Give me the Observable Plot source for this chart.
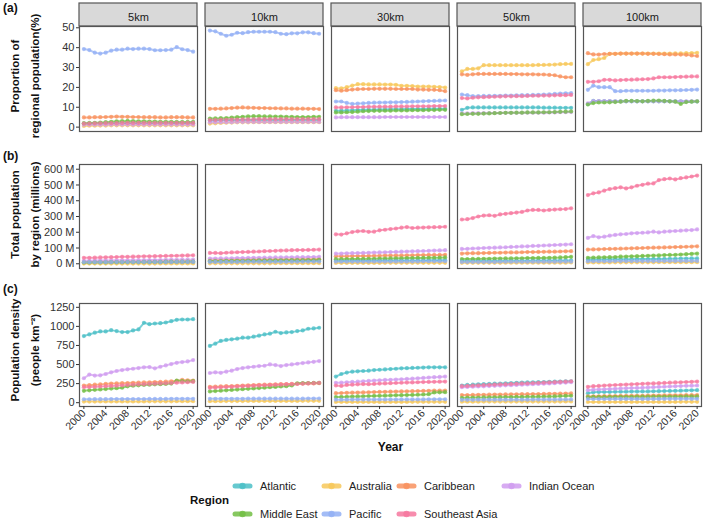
<!DOCTYPE html>
<html><head><meta charset="utf-8">
<script src="https://cdn.jsdelivr.net/npm/d3@7"></script>
<script src="https://cdn.jsdelivr.net/npm/@observablehq/plot@0.6"></script>
<style>
body{margin:0;background:#fff;}
#root{position:relative;width:709px;height:521px;font-family:"Liberation Sans",Arial,sans-serif;overflow:hidden;background:#fff;}
#root svg{position:absolute;left:0;}
.tag{position:absolute;left:3px;font-weight:bold;font-size:12px;color:#111;line-height:12px;}
</style></head><body><div id="root"></div>
<script>
const years = [2000,2001,2002,2003,2004,2005,2006,2007,2008,2009,2010,2011,2012,2013,2014,2015,2016,2017,2018,2019,2020];
const regions = ["Atlantic","Australia","Caribbean","Indian Ocean","Middle East","Pacific","Southeast Asia"];
const distances = ["5km","10km","30km","50km","100km"];
const colors = ["#4bbfc7","#f7c85a","#f8925f","#d09cf0","#72be44","#93b0f5","#f6789f"];
const yearTicks = [2000,2004,2008,2012,2016,2020];
const propTicks = [0,10,20,30,40,50];
const popTicks = [0,100,200,300,400,500,600];
const densTicks = [0,250,500,750,1000,1250];

// (a) Proportion of regional population (%)
const prop_5km = {
  "Atlantic":      [1.7,1.7,1.8,1.8,1.8,1.9,1.9,1.9,1.9,1.9,1.9,1.9,1.9,1.9,1.9,1.9,1.9,1.9,1.9,1.9,1.9],
  "Australia":     [0.6,0.7,0.7,0.8,0.8,0.9,0.9,0.9,0.9,0.9,0.9,0.9,0.9,0.9,0.9,0.9,0.9,0.9,0.9,0.9,0.9],
  "Caribbean":     [4.9,4.9,5.0,5.0,5.1,5.2,5.3,5.2,5.2,5.1,5.1,5.0,5.0,5.0,4.9,4.9,5.0,5.0,5.0,4.9,4.9],
  "Indian Ocean":  [1.2,1.2,1.2,1.2,1.2,1.3,1.3,1.3,1.3,1.3,1.3,1.3,1.3,1.3,1.3,1.3,1.3,1.3,1.3,1.3,1.3],
  "Middle East":   [2.0,2.1,2.2,2.3,2.5,2.7,2.9,3.0,3.1,3.0,2.9,2.9,2.8,2.8,2.7,2.7,2.7,2.6,2.6,2.6,2.6],
  "Pacific":       [39.3,38.8,37.5,37.0,37.5,38.5,39.0,39.0,39.5,39.3,39.5,39.5,39.3,38.7,38.7,38.8,39.0,40.3,39.2,38.8,38.0],
  "Southeast Asia":[1.8,1.8,1.9,1.9,2.0,2.0,2.0,2.1,2.1,2.1,2.1,2.1,2.1,2.1,2.1,2.1,2.1,2.1,2.1,2.1,2.1]
};
const prop_10km = {
  "Atlantic":      [3.3,3.3,3.4,3.4,3.5,3.5,3.6,3.6,3.6,3.6,3.6,3.6,3.6,3.6,3.6,3.6,3.6,3.6,3.6,3.6,3.6],
  "Australia":     [1.8,1.9,2.1,2.2,2.3,2.4,2.4,2.4,2.5,2.5,2.5,2.5,2.5,2.5,2.5,2.5,2.5,2.5,2.5,2.5,2.5],
  "Caribbean":     [9.2,9.2,9.3,9.4,9.6,9.8,9.9,9.8,9.7,9.6,9.6,9.5,9.5,9.4,9.4,9.3,9.3,9.3,9.2,9.2,9.1],
  "Indian Ocean":  [2.4,2.4,2.5,2.5,2.5,2.6,2.6,2.6,2.6,2.6,2.6,2.6,2.6,2.6,2.6,2.6,2.6,2.6,2.6,2.6,2.6],
  "Middle East":   [4.3,4.4,4.5,4.6,4.8,5.0,5.2,5.4,5.5,5.5,5.4,5.4,5.3,5.3,5.2,5.2,5.1,5.1,5.1,5.2,5.2],
  "Pacific":       [48.6,48.2,47.0,46.0,46.5,47.5,47.3,47.8,48.0,48.0,48.0,48.0,47.8,47.0,46.8,47.2,47.2,47.7,47.7,47.3,47.0],
  "Southeast Asia":[3.6,3.6,3.7,3.7,3.8,3.8,3.9,3.9,3.9,4.0,4.0,4.0,4.0,4.0,4.0,4.0,4.0,4.0,4.0,4.0,4.0]
};
const prop_30km = {
  "Atlantic":      [8.2,8.3,8.4,8.5,8.6,8.7,8.8,8.8,8.9,8.9,9.0,9.0,9.0,9.1,9.1,9.1,9.1,9.2,9.2,9.2,9.2],
  "Australia":     [19.6,19.5,20.1,20.9,21.6,21.6,21.5,21.5,21.5,21.4,21.4,21.3,20.8,20.8,20.7,20.4,20.4,20.4,20.3,20.2,19.9],
  "Caribbean":     [18.6,18.3,18.6,18.9,19.1,19.2,19.2,19.3,19.3,19.3,19.3,19.2,19.2,19.2,19.2,18.9,18.9,18.8,18.8,18.6,18.1],
  "Indian Ocean":  [4.9,5.0,5.0,5.0,5.0,5.0,5.0,5.0,5.0,5.1,5.1,5.1,5.1,5.1,5.1,5.1,5.1,5.1,5.1,5.1,5.1],
  "Middle East":   [7.4,7.4,7.5,7.6,7.8,8.0,8.1,8.2,8.2,8.3,8.3,8.4,8.4,8.4,8.5,8.5,8.5,8.6,8.6,8.7,8.7],
  "Pacific":       [12.9,12.9,12.2,11.7,11.9,12.0,12.2,12.3,12.4,12.4,12.5,12.5,12.6,12.7,12.8,12.9,13.0,13.1,13.2,13.3,13.4],
  "Southeast Asia":[9.9,9.9,10.0,10.0,10.1,10.1,10.2,10.2,10.3,10.3,10.3,10.4,10.4,10.4,10.5,10.5,10.5,10.5,10.6,10.6,10.6]
};
const prop_50km = {
  "Atlantic":      [8.7,9.7,9.9,9.9,9.9,9.9,9.9,9.9,9.9,9.9,9.9,9.9,9.9,9.9,9.9,9.8,9.8,9.8,9.7,9.7,9.7],
  "Australia":     [28.1,29.3,29.3,29.6,31.2,31.2,31.2,31.2,31.2,31.2,31.2,31.2,31.2,31.2,31.3,31.3,31.4,31.5,31.7,31.8,31.8],
  "Caribbean":     [26.6,26.3,26.6,26.8,26.8,26.8,26.8,26.8,26.8,26.7,26.7,26.6,26.6,26.6,26.5,26.5,26.3,26.1,25.5,25.1,25.1],
  "Indian Ocean":  [6.9,6.9,7.0,7.0,7.0,7.1,7.1,7.1,7.2,7.2,7.2,7.2,7.3,7.3,7.3,7.3,7.4,7.4,7.5,7.5,7.6],
  "Middle East":   [6.5,6.6,6.7,6.7,6.8,6.9,7.0,7.1,7.2,7.2,7.3,7.3,7.4,7.4,7.4,7.5,7.5,7.6,7.7,7.8,7.9],
  "Pacific":       [16.4,16.1,15.6,15.6,15.7,15.7,15.8,15.8,15.9,15.9,16.0,16.1,16.1,16.2,16.3,16.4,16.5,16.7,16.9,17.0,17.1],
  "Southeast Asia":[14.6,14.4,14.8,15.0,15.1,15.2,15.3,15.4,15.5,15.5,15.6,15.6,15.7,15.8,15.8,15.9,15.9,16.0,16.1,16.1,16.2]
};
const prop_100km = {
  "Atlantic":      [11.6,13.2,13.1,13.1,13.1,13.0,13.0,13.0,13.0,13.0,13.0,13.0,13.0,13.0,13.0,13.0,13.0,13.0,12.9,12.9,12.9],
  "Australia":     [31.7,33.8,34.2,34.8,36.9,36.9,37.0,37.0,37.0,37.0,37.0,37.0,37.0,37.0,37.0,37.0,37.1,37.1,37.2,37.3,37.4],
  "Caribbean":     [37.2,36.6,36.5,36.8,36.9,36.9,37.0,37.0,37.0,37.0,37.0,36.9,36.9,36.8,36.7,36.6,36.6,36.5,36.4,36.1,35.8],
  "Indian Ocean":  [12.0,13.1,13.1,13.1,13.1,13.0,13.0,13.0,13.0,13.0,13.0,13.0,13.0,13.0,13.0,13.0,13.0,13.0,13.0,13.0,13.0],
  "Middle East":   [11.4,12.1,12.4,12.4,12.5,12.6,12.8,13.2,13.2,13.1,13.0,13.2,13.3,13.4,13.2,13.0,12.8,11.7,12.6,12.8,13.0],
  "Pacific":       [18.8,20.9,20.1,20.1,20.1,18.1,18.1,18.3,18.3,18.3,18.3,18.3,18.3,18.4,18.4,18.5,18.5,18.6,18.7,18.8,18.9],
  "Southeast Asia":[22.8,22.8,23.1,23.8,23.8,23.5,23.7,23.8,23.9,24.0,24.1,24.2,24.5,25.1,25.1,25.1,25.2,25.3,25.4,25.5,25.5]
};

// (b) Total population by region (millions)
const pop_5km = {
  "Atlantic":      [8,8,8,8,8,8,9,9,9,9,9,9,9,9,9,10,10,10,10,10,10],
  "Australia":     [1,1,1,1,1,1,1,1,1,1,1,1,1,1,2,2,2,2,2,2,2],
  "Caribbean":     [12,12,12,13,13,13,13,13,14,14,14,14,14,14,15,15,15,15,15,15,15],
  "Indian Ocean":  [19,19,20,20,21,21,22,22,22,23,23,23,24,24,24,25,25,25,26,26,26],
  "Middle East":   [8,8,9,9,9,10,10,10,11,11,11,12,12,12,12,13,13,13,13,14,14],
  "Pacific":       [10,10,10,10,10,10,11,11,11,11,11,11,11,11,11,11,11,12,12,12,12],
  "Southeast Asia":[38,38,39,40,41,42,43,44,44,45,46,47,47,48,49,50,51,51,52,53,54]
};
const pop_10km = {
  "Atlantic":      [14,14,14,15,15,15,15,15,16,16,16,16,16,16,17,17,17,17,17,17,18],
  "Australia":     [3,3,3,3,3,3,3,3,3,3,3,3,4,4,4,4,4,4,4,4,4],
  "Caribbean":     [23,23,24,24,24,25,25,25,26,26,26,26,27,27,27,27,28,28,28,28,29],
  "Indian Ocean":  [33,33,34,34,35,36,36,37,38,38,39,39,40,40,41,41,42,42,43,43,44],
  "Middle East":   [17,17,17,18,18,19,19,20,20,21,21,21,22,22,22,23,23,23,24,24,25],
  "Pacific":       [12,12,12,12,12,12,13,13,13,13,13,13,13,13,13,13,13,14,14,14,14],
  "Southeast Asia":[69,69,67,70,72,73,74,75,77,78,80,81,82,84,85,86,87,87,88,89,90]
};
const pop_30km = {
  "Atlantic":      [18,18,18,19,19,19,19,20,20,20,20,20,21,21,21,21,21,22,22,22,22],
  "Australia":     [5,5,5,5,5,5,5,5,5,6,6,6,6,6,6,6,6,6,6,6,6],
  "Caribbean":     [47,48,48,49,49,50,50,51,51,52,52,53,53,54,54,55,55,56,56,56,57],
  "Indian Ocean":  [64,65,66,67,68,69,70,71,72,73,74,75,77,78,79,80,81,82,84,85,86],
  "Middle East":   [29,29,30,30,31,31,32,32,33,33,34,35,35,36,36,37,37,38,38,39,40],
  "Pacific":       [14,14,14,14,14,14,14,15,15,15,15,15,15,15,15,15,16,16,16,16,16],
  "Southeast Asia":[187,185,193,201,206,208,203,204,212,216,220,224,229,233,227,229,230,231,232,233,235]
};
const pop_50km = {
  "Atlantic":      [17,17,17,18,18,18,18,18,19,19,19,19,19,20,20,20,20,20,21,21,21],
  "Australia":     [6,6,6,6,6,6,6,6,7,7,7,7,7,7,7,7,7,7,7,7,8],
  "Caribbean":     [65,66,67,67,68,69,70,70,71,72,72,73,74,74,75,76,77,77,78,79,80],
  "Indian Ocean":  [94,95,97,98,100,101,102,104,105,107,108,110,111,113,114,116,117,119,120,122,124],
  "Middle East":   [30,30,31,31,32,32,33,33,34,34,35,35,36,36,37,37,38,39,40,42,44],
  "Pacific":       [12,12,12,12,12,12,12,13,13,13,13,13,13,13,13,13,13,13,14,14,14],
  "Southeast Asia":[281,283,290,300,306,308,304,313,317,321,325,329,338,342,342,338,342,344,346,347,352]
};
const pop_100km = {
  "Atlantic":      [26,26,27,27,28,28,28,29,29,30,30,30,31,31,31,32,32,33,33,34,34],
  "Australia":     [8,8,8,8,8,9,9,9,9,9,9,9,9,10,10,10,10,10,10,10,10],
  "Caribbean":     [90,91,92,93,94,95,96,97,98,99,100,101,102,103,104,105,106,107,108,109,111],
  "Indian Ocean":  [164,176,168,172,178,183,187,189,193,195,197,199,204,199,204,206,208,210,212,214,218],
  "Middle East":   [38,39,40,41,42,43,45,46,47,48,50,51,52,53,55,56,57,59,61,63,65],
  "Pacific":       [16,16,16,16,16,17,17,17,17,17,17,17,17,17,18,18,18,18,18,18,18],
  "Southeast Asia":[436,447,453,464,474,480,485,478,485,495,501,508,510,531,537,541,535,543,548,554,560]
};

// (c) Population density (people per km2)
const dens_5km = {
  "Atlantic":      [873,895,917,934,934,951,938,925,925,947,960,1047,1029,1038,1042,1051,1068,1086,1090,1090,1094],
  "Australia":     [15,15,15,16,16,16,16,17,17,17,17,17,18,18,18,18,18,19,19,19,19],
  "Caribbean":     [225,230,236,240,246,250,252,256,258,260,262,265,268,270,272,276,281,286,298,294,290],
  "Indian Ocean":  [320,368,355,359,376,398,415,428,437,445,454,463,467,450,471,489,506,523,532,541,558],
  "Middle East":   [155,162,168,173,178,185,190,196,215,222,228,232,236,240,243,246,250,290,283,280,282],
  "Pacific":       [45,45,46,46,46,47,47,47,48,48,48,48,49,49,49,49,50,50,50,50,51],
  "Southeast Asia":[203,205,208,212,216,220,223,228,232,236,240,243,246,249,252,255,258,262,265,268,272]
};
const dens_10km = {
  "Atlantic":      [744,774,809,822,830,839,852,852,865,878,895,904,930,913,921,925,938,947,969,973,982],
  "Australia":     [20,20,20,21,21,21,21,22,22,22,22,22,23,23,23,23,23,24,24,24,24],
  "Caribbean":     [208,210,213,216,219,222,225,228,231,234,236,238,240,242,244,246,248,250,252,253,255],
  "Indian Ocean":  [389,398,392,407,420,441,454,463,471,480,484,502,493,480,493,502,510,519,528,536,545],
  "Middle East":   [147,152,157,162,167,172,177,182,187,192,197,202,207,212,217,225,255,257,258,259,260],
  "Pacific":       [50,50,50,51,51,51,51,52,52,52,52,52,52,53,53,53,53,53,54,54,54],
  "Southeast Asia":[195,198,201,205,208,212,215,218,221,224,227,230,233,236,239,242,245,249,253,256,260]
};
const dens_30km = {
  "Atlantic":      [342,376,394,407,411,415,420,428,432,436,441,445,450,452,455,458,460,463,463,464,464],
  "Australia":     [9,9,9,9,9,10,10,10,10,10,10,10,10,10,11,11,11,11,11,11,11],
  "Caribbean":     [125,127,129,131,133,135,137,139,141,142,144,146,148,149,151,152,154,155,157,158,160],
  "Indian Ocean":  [260,262,268,272,275,280,285,290,294,298,300,303,307,311,315,320,325,330,335,338,342],
  "Middle East":   [74,76,78,80,82,84,86,88,90,92,94,96,98,100,102,104,107,112,134,136,138],
  "Pacific":       [40,40,40,41,41,41,41,42,42,42,42,42,43,43,43,43,43,44,44,44,44],
  "Southeast Asia":[225,220,233,236,240,244,242,246,250,253,256,258,261,264,266,268,270,272,274,275,277]
};
const dens_50km = {
  "Atlantic":      [225,233,236,241,243,246,249,251,255,258,260,263,265,267,269,271,273,275,277,279,281],
  "Australia":     [13,13,13,13,14,14,14,14,14,14,14,15,15,15,15,15,15,15,15,16,16],
  "Caribbean":     [100,101,102,103,104,105,106,107,108,109,110,111,112,113,114,115,116,117,118,120,121],
  "Indian Ocean":  [203,206,209,212,215,218,221,224,227,230,233,236,239,242,245,248,252,256,260,264,268],
  "Middle East":   [65,66,67,68,69,70,71,72,73,74,75,76,77,78,79,80,81,82,86,89,91],
  "Pacific":       [38,38,38,39,39,39,39,39,40,40,40,40,40,41,41,41,41,41,42,42,42],
  "Southeast Asia":[216,220,224,228,231,234,237,240,243,246,249,252,255,258,261,264,267,270,274,277,281]
};
const dens_100km = {
  "Atlantic":      [125,138,139,140,141,142,143,144,145,146,147,148,150,151,152,154,156,158,160,162,164],
  "Australia":     [9,9,9,9,9,9,10,10,10,10,10,10,10,10,10,10,10,11,11,11,11],
  "Caribbean":     [82,83,84,85,86,87,88,89,90,90,91,92,93,94,95,96,97,97,98,99,100],
  "Indian Ocean":  [164,170,173,176,179,182,185,188,191,194,197,200,203,206,209,212,215,218,221,223,225],
  "Middle East":   [74,75,75,76,76,77,77,78,78,79,79,79,80,80,80,81,81,81,82,82,82],
  "Pacific":       [48,48,48,48,48,49,49,49,49,49,49,49,49,49,50,50,50,50,50,50,50],
  "Southeast Asia":[208,216,220,224,228,232,235,238,241,244,247,250,253,256,259,262,265,268,271,274,277]
};

const propByDist = {"5km":prop_5km,"10km":prop_10km,"30km":prop_30km,"50km":prop_50km,"100km":prop_100km};
const popByDist  = {"5km":pop_5km,"10km":pop_10km,"30km":pop_30km,"50km":pop_50km,"100km":pop_100km};
const densByDist = {"5km":dens_5km,"10km":dens_10km,"30km":dens_30km,"50km":dens_50km,"100km":dens_100km};

function tidy(byDist) {
  const rows = [];
  for (const d of distances) for (const r of regions)
    byDist[d][r].forEach((v, i) => rows.push({dist: d, region: r, year: years[i], value: v}));
  return rows;
}

const root = document.getElementById("root");
const FONT = "Liberation Sans, Arial, sans-serif";
const BORDER = "#555";

function makeRow(byDist, cfg) {
  const rows = tidy(byDist);
  const marks = [
    Plot.line(rows, {fx: "dist", x: "year", y: "value", z: "region", stroke: "region", strokeWidth: 2, strokeOpacity: 0.72}),
    Plot.dot(rows, {fx: "dist", x: "year", y: "value", fill: "region", r: 2.1, fillOpacity: 0.78, stroke: "none"}),
    Plot.frame({stroke: BORDER, strokeWidth: 1.2}),
    Plot.axisY({ticks: cfg.ticks, tickFormat: cfg.fmt, tickSize: 3, tickPadding: 2, label: null, fontSize: 11}),
    Plot.text([cfg.title], {fx: () => distances[0], frameAnchor: "left", textAnchor: "middle", lineAnchor: "middle",
      dx: -56.5, dy: cfg.tdy || 0, rotate: -90,
      text: d => d, fontWeight: "bold", fontSize: 11.5, lineHeight: 1.72, fill: "#111"})
  ];
  if (cfg.strips) marks.push(Plot.axisFx({anchor: "top", tickSize: 0, tickPadding: 6, label: null, fontSize: 11, color: "#1a1a1a"}));
  if (cfg.xaxis) marks.push(Plot.axisX({ticks: yearTicks, tickFormat: "d", tickRotate: -45, tickSize: 3, tickPadding: 2, label: null, fontSize: 10.5}));
  const plot = Plot.plot({
    width: 709, height: cfg.height,
    marginLeft: 79.3, marginRight: 7, marginTop: cfg.mt, marginBottom: cfg.mb,
    style: {fontFamily: FONT, fontSize: "11px", background: "transparent", color: "#333", overflow: "visible"},
    fx: {domain: distances, paddingInner: 0.061, paddingOuter: 0, label: null, axis: cfg.strips ? undefined : null},
    x: {domain: [1999.2, 2020.8], axis: cfg.xaxis ? undefined : null, label: null},
    y: {domain: cfg.ydomain, label: null},
    color: {domain: regions, range: colors},
    marks
  });
  plot.style.top = cfg.top + "px";
  root.appendChild(plot);
  return plot;
}

const plotA = makeRow(propByDist, {top: 0, height: 134, mt: 26, mb: 3, ydomain: [-2.2, 50.65], ticks: propTicks, fmt: d => String(d),
  title: "Proportion of\nregional population(%)", strips: true, tdy: -3});
const plotB = makeRow(popByDist, {top: 150, height: 121, mt: 14, mb: 3, ydomain: [-30, 630], ticks: popTicks, fmt: d => d + " M",
  title: "Total population\nby region (millions)", tdy: -2});
const plotC = makeRow(densByDist, {top: 290, height: 165, mt: 13, mb: 49, ydomain: [-50, 1300], ticks: densTicks, fmt: d => String(d),
  title: "Population density\n(people km\u207B\u00B2)", xaxis: true, tdy: -5});

// strip backgrounds behind facet labels
{
  const fx = plotA.scale("fx");
  const g = d3.select(plotA).insert("g", ":first-child");
  for (const d of distances) {
    g.append("rect").attr("x", fx.apply(d)).attr("y", 3).attr("width", fx.bandwidth).attr("height", 23)
      .attr("fill", "#d9d9d9").attr("stroke", BORDER).attr("stroke-width", 1.2);
  }
}

// panel tags
[["(a)", 2], ["(b)", 150], ["(c)", 283]].forEach(([t, y]) => {
  const el = document.createElement("div");
  el.className = "tag"; el.textContent = t; el.style.top = y + "px";
  root.appendChild(el);
});

// x title and legend
{
  const color = plotC.scale("color");
  const svg = d3.select(root).append("svg").attr("width", 709).attr("height", 91).style("top", "430px")
    .style("font-family", FONT);
  svg.append("text").attr("x", 390.5).attr("y", 17).attr("text-anchor", "middle").attr("dominant-baseline", "central")
    .attr("font-weight", "bold").attr("font-size", 12).attr("fill", "#111").text("Year");
  svg.append("text").attr("x", 190).attr("y", 70).attr("dominant-baseline", "central")
    .attr("font-weight", "bold").attr("font-size", 11.5).attr("fill", "#111").text("Region");
  const colX = [233, 322, 397, 502];
  const rowY = [56, 84];
  regions.forEach((r, i) => {
    const x = colX[i % 4], y = rowY[Math.floor(i / 4)];
    const c = color.apply(r);
    svg.append("line").attr("x1", x + 2).attr("x2", x + 17).attr("y1", y).attr("y2", y)
      .attr("stroke", c).attr("stroke-width", 5).attr("stroke-linecap", "round").attr("stroke-opacity", 0.85);
    svg.append("circle").attr("cx", x + 9.5).attr("cy", y).attr("r", 3.2).attr("fill", c).attr("fill-opacity", 0.85);
    svg.append("text").attr("x", x + 27).attr("y", y).attr("dominant-baseline", "central")
      .attr("font-size", 11).attr("fill", "#222").text(r);
  });
}
</script>
</body></html>
